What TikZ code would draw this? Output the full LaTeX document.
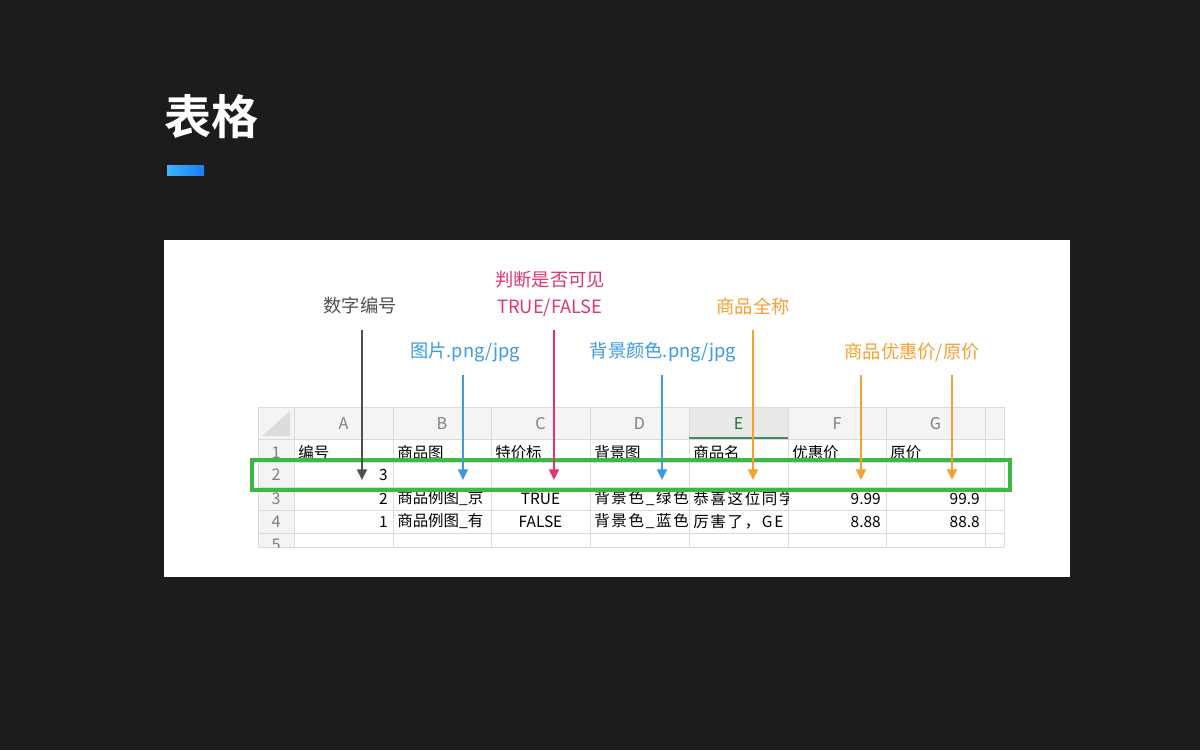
\documentclass[tikz,border=0pt]{standalone}
\usepackage{fontspec}
\setmainfont{Noto Sans CJK SC}[BoldFont={Noto Sans CJK SC Bold}]
\newfontfamily\widefont{Noto Sans CJK SC}[LetterSpace=11]
\usepackage{tikz}
\usetikzlibrary{arrows.meta,positioning}
\definecolor{pagebg}{HTML}{1C1C1C}
\definecolor{barlight}{HTML}{3BB4FF}
\definecolor{bardark}{HTML}{1C7CF4}
\definecolor{gridcol}{HTML}{DADADA}
\definecolor{hdrfill}{HTML}{F4F4F4}
\definecolor{selfill}{HTML}{E9E9E9}
\definecolor{cornercol}{HTML}{DCDCDC}
\definecolor{hdrtext}{HTML}{7F7F7F}
\definecolor{seltext}{HTML}{2E6F40}
\definecolor{selline}{HTML}{4A8A5A}
\definecolor{numcol}{HTML}{505050}
\definecolor{piccol}{HTML}{3A9AE6}
\definecolor{viscol}{HTML}{E03570}
\definecolor{namecol}{HTML}{F5A033}
\definecolor{rowgreen}{HTML}{3DB847}

\begin{document}
\begin{tikzpicture}[x=0.025cm,y=-0.025cm,
  cell/.style={inner sep=0pt,font=\fontsize{11}{13}\selectfont,text=black},
  widecell/.style={cell,font=\fontsize{11}{13}\widefont},
  colhdr/.style={inner sep=0pt,font=\fontsize{11.5}{13}\selectfont,text=hdrtext},
  lab/.style={inner sep=0pt,font=\fontsize{13}{15}\selectfont},
  gridline/.style={draw=gridcol,line width=0.6pt},
  pointer/.style={line width=1.2pt,-{Triangle[length=7.5pt,width=7pt]}}]
% page and panel
\fill[pagebg] (0,0) rectangle (1200,750);
\useasboundingbox (0,0) rectangle (1200,750);
\fill[white] (164,240) rectangle (1070,577);
\node[anchor=west,inner sep=0pt,text=white,font=\fontsize{33.5}{36}\selectfont\bfseries] (title) at (164,117) {表格};
\shade[left color=barlight,right color=bardark] (167,165) rectangle (204,175);

% sheet headers
\fill[hdrfill] (258,407) rectangle (1004,439);
\fill[hdrfill] (258,407) rectangle (294,547);
\fill[selfill] (689,407) rectangle (788,439);
\fill[cornercol] (262,436) -- (290,436) -- (290,411) -- cycle;
\foreach \x in {258,294,393,491,590,689,788,886,985,1004}
  \draw[gridline] (\x,407) -- (\x,547);
\foreach \y in {407,439,462,487,510,533,547}
  \draw[gridline] (258,\y) -- (1004,\y);
\draw[selline,line width=1.5pt] (689,438) -- (788,438);

\foreach \c/\x in {A/343.5,B/442,C/540.5,D/639.5,F/837,G/935.5}
  \node[colhdr] at (\x,424) {\c};
\node[colhdr,text=seltext] at (738.5,424) {E};

% row 1, partly hidden
\begin{scope}
\clip (258,439) rectangle (1004,462);
\node[colhdr] at (276,453) {1};
\foreach \t/\x in {编号/298,商品图/397,特价标/495,背景图/594,商品名/693,优惠价/792,原价/890}
  \node[cell,anchor=west] at (\x,453) {\t};
\end{scope}

% rows 2-5
\begin{scope}
\clip (258,462) rectangle (1004,547);
\foreach \n/\y in {2/474.5,3/498.5,4/521.5,5/545}
  \node[colhdr] at (276,\y) {\n};
\end{scope}
\node[cell,anchor=east] (cnt) at (388,474.5) {3};
\node[cell,anchor=east] at (388,498.5) {2};
\node[cell,anchor=east] at (388,521.5) {1};
\begin{scope}
\clip (393,487) rectangle (491,533);
\node[cell,anchor=west] at (397,498.5) {商品例图\_京};
\node[cell,anchor=west] at (397,521.5) {商品例图\_有};
\end{scope}
\node[cell] at (540.5,498.5) {TRUE};
\node[cell] at (540.5,521.5) {FALSE};
\node[widecell,anchor=west] at (594,498.5) {背景色\_绿色};
\node[widecell,anchor=west] at (594,521.5) {背景色\_蓝色};
\begin{scope}
\clip (689,487) rectangle (788,533);
\node[widecell,anchor=west] at (693,498.5) {恭喜这位同学};
\node[widecell,anchor=west] at (693,521.5) {厉害了，GE};
\end{scope}
\node[cell,anchor=east] at (881,498.5) {9.99};
\node[cell,anchor=east] at (881,521.5) {8.88};
\node[cell,anchor=east] at (980,498.5) {99.9};
\node[cell,anchor=east] at (980,521.5) {88.8};

% selected row
\draw[rowgreen,line width=2.85pt] (252,459.5) rectangle (1009.5,490);

% labels
\node[lab,text=numcol] (numlab) at (360,306) {数字编号};
\node[lab,text=viscol] (vislab) at (550,280) {判断是否可见};
\node[lab,text=viscol,below=7pt of vislab] (tflab) {TRUE/FALSE};
\node[lab,text=namecol] (namelab) at (753,306) {商品全称};
\node[lab,text=piccol] (piclab) at (465,352) {图片.png/jpg};
\node[lab,text=piccol] (bglab) at (663,352) {背景颜色.png/jpg};
\node[lab,text=namecol] (pricelab) at (912,352) {商品优惠价/原价};

% pointers into row 2
\coordinate (numtop) at (362,330);   \coordinate (numtip) at (362,480);
\coordinate (pictop) at (463,375);   \coordinate (pictip) at (463,480);
\coordinate (vistop) at (554,330);   \coordinate (vistip) at (554,480);
\coordinate (bgtop) at (662,375);    \coordinate (bgtip) at (662,480);
\coordinate (nametop) at (753,330);  \coordinate (nametip) at (753,480);
\coordinate (saletop) at (861,375);  \coordinate (saletip) at (861,480);
\coordinate (origtop) at (952,375);  \coordinate (origtip) at (952,480);
\draw[pointer,numcol] (numtop) -- (numtip);
\draw[pointer,piccol] (pictop) -- (pictip);
\draw[pointer,viscol] (vistop) -- (vistip);
\draw[pointer,piccol] (bgtop) -- (bgtip);
\draw[pointer,namecol] (nametop) -- (nametip);
\draw[pointer,namecol] (saletop) -- (saletip);
\draw[pointer,namecol] (origtop) -- (origtip);
\end{tikzpicture}
\end{document}
